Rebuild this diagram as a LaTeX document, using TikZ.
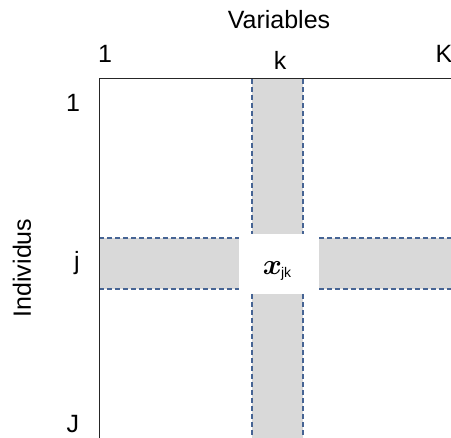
\documentclass[tikz,border=0pt]{standalone}
\usepackage{fix-cm}
\usepackage{fontspec}
\setmainfont{Liberation Sans}
\usepackage{amsmath}
\usepackage{bm}
\usepackage{xcolor}
\usetikzlibrary{positioning,calc}
\definecolor{bandgray}{RGB}{217,217,217}
\definecolor{dashblue}{RGB}{70,100,148}

\begin{document}
\begin{tikzpicture}[x=1pt,y=-1pt,
  lbl/.style={font=\fontsize{25}{27}\selectfont,inner sep=0pt,anchor=base},
  bandedge/.style={dashblue,line width=1.1pt,dash pattern=on 5pt off 3pt}]
  \useasboundingbox (0,0) rectangle (451,438);
  \coordinate (o) at (99,79);
  % grey bands and the white cell
  \fill[bandgray] (252,79) rectangle (303,438);
  \fill[bandgray] (99,238) rectangle (451,289);
  \fill[white] (239,234) rectangle (319,294);
  \foreach \x in {252,303} {
    \draw[bandedge] (\x,79) -- (\x,234);
    \draw[bandedge] (\x,294) -- (\x,438);
  }
  \foreach \y in {238,289} {
    \draw[bandedge] (99,\y) -- (239,\y);
    \draw[bandedge] (319,\y) -- (451,\y);
  }
  \draw[black!85,line width=1pt] (o|-0,438) -- (o) -- (451,79);
  % labels
  \node[lbl] (var) at (279,29) {Variables};
  \node[lbl] (c1) at (105,63) {1};
  \node[lbl] (ck) at (280,70) {k};
  \node[lbl] (cK) at (444,63) {K};
  \node[lbl] (r1) at (73,112) {1};
  \node[lbl] (rj) at (77,270) {j};
  \node[lbl] (rJ) at (73,433) {J};
  \node[lbl,rotate=90,anchor=center] (ind) at (22,268) {Individus};
  \node[inner sep=0pt,anchor=base] (xjk) at (277,275)
    {\fontsize{29}{31}\selectfont$\bm{x}$\kern-1pt\raisebox{-3pt}{\fontsize{14}{15}\selectfont jk}};
\end{tikzpicture}
\end{document}
